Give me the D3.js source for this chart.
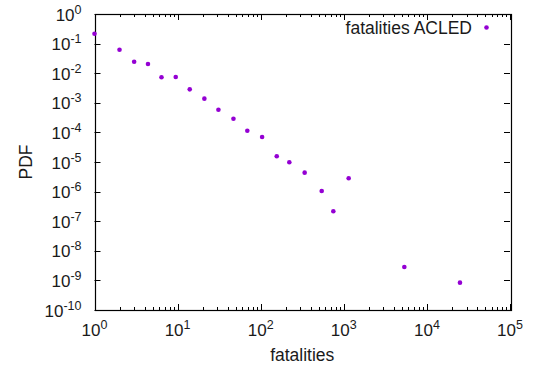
<!DOCTYPE html>
<html>
<head>
<meta charset="utf-8">
<script src="https://cdn.jsdelivr.net/npm/d3@7"></script>
<style>
  body { margin: 0; background: #fff; }
  svg text { font-family: "Liberation Sans", Arial, sans-serif; fill: #1a1a1a; }
</style>
</head>
<body>
<div id="chart"></div>
<script>
// fatalities bins and PDF values
const fatalities = [1, 2, 3, 4.4, 6.4, 9.5, 14, 21, 31, 47, 69, 104, 156, 221, 338, 542, 748, 1145, 5350, 25000];
const pdf = [0.216, 0.0623, 0.0245, 0.0205, 0.00727, 0.00744, 0.00285, 0.00138, 5.85e-4, 2.9e-4,
  1.14e-4, 7.0e-5, 1.56e-5, 9.8e-6, 4.36e-6, 1.05e-6, 2.16e-7, 2.82e-6, 2.84e-9, 8.4e-10];
const xTickExps = [0, 1, 2, 3, 4, 5];
const yTickExps = [0, -1, -2, -3, -4, -5, -6, -7, -8, -9, -10];
const seriesName = 'fatalities ACLED';

const width = 537, height = 371;
const margin = { left: 94.5, right: 27, top: 14, bottom: 61 };
const color = '#9400d3';

const svg = d3.select('#chart').append('svg')
  .attr('width', width)
  .attr('height', height);

const x = d3.scaleLog().domain([1, 1e5]).range([margin.left, width - margin.right]);
const y = d3.scaleLog().domain([1e-10, 1]).range([height - margin.bottom, margin.top]);

const x0 = x.range()[0], x1 = x.range()[1];
const y0 = y.range()[0], y1 = y.range()[1];

// ticks (gnuplot style: inward, mirrored)
const ticks = svg.append('g').attr('stroke', '#000').attr('stroke-width', 1);
const minorX = [];
for (let e = 0; e < 5; e++) for (let m = 2; m <= 9; m++) minorX.push(m * Math.pow(10, e));
minorX.forEach(v => {
  const px = Math.round(x(v)) + 0.5;
  ticks.append('line').attr('x1', px).attr('x2', px).attr('y1', y0).attr('y2', y0 - 3);
  ticks.append('line').attr('x1', px).attr('x2', px).attr('y1', y1).attr('y2', y1 + 3);
});
xTickExps.forEach(e => {
  const px = Math.round(x(Math.pow(10, e))) + 0.5;
  ticks.append('line').attr('x1', px).attr('x2', px).attr('y1', y0).attr('y2', y0 - 6);
  ticks.append('line').attr('x1', px).attr('x2', px).attr('y1', y1).attr('y2', y1 + 6);
});
yTickExps.forEach(e => {
  const py = Math.round(y(Math.pow(10, e))) + 0.5;
  ticks.append('line').attr('x1', x0).attr('x2', x0 + 6).attr('y1', py).attr('y2', py);
  ticks.append('line').attr('x1', x1).attr('x2', x1 - 6).attr('y1', py).attr('y2', py);
});

// border
svg.append('rect')
  .attr('x', Math.round(x0) + 0.5).attr('y', Math.round(y1) + 0.5)
  .attr('width', Math.round(x1 - x0)).attr('height', Math.round(y0 - y1))
  .attr('fill', 'none').attr('stroke', '#000').attr('stroke-width', 1.2);

// tick labels with superscript exponents
function powLabel(g, e) {
  g.append('tspan').text('10');
  g.append('tspan').attr('dy', -7).attr('font-size', 12.5).text(e);
}
xTickExps.forEach(e => {
  const t = svg.append('text')
    .attr('x', x(Math.pow(10, e)))
    .attr('y', y0 + 26)
    .attr('text-anchor', 'middle')
    .attr('font-size', 17);
  powLabel(t, e);
});
yTickExps.forEach(e => {
  const t = svg.append('text')
    .attr('x', x0 - 13)
    .attr('y', y(Math.pow(10, e)) + 6.5)
    .attr('text-anchor', 'end')
    .attr('font-size', 17);
  powLabel(t, e);
});

// axis titles
svg.append('text')
  .attr('x', (x0 + x1) / 2)
  .attr('y', height - 10)
  .attr('text-anchor', 'middle')
  .attr('font-size', 17.5)
  .text('fatalities');
svg.append('text')
  .attr('transform', `translate(32,${(y0 + y1) / 2}) rotate(-90)`)
  .attr('text-anchor', 'middle')
  .attr('font-size', 17.5)
  .text('PDF');

// points
svg.append('g').selectAll('circle')
  .data(fatalities.map((f, i) => [f, pdf[i]]))
  .enter().append('circle')
  .attr('cx', d => x(d[0]))
  .attr('cy', d => y(d[1]))
  .attr('r', 2.3)
  .attr('fill', color);

// legend
svg.append('text')
  .attr('x', 472)
  .attr('y', 34)
  .attr('text-anchor', 'end')
  .attr('font-size', 17.5)
  .text(seriesName);
svg.append('circle')
  .attr('cx', 486.5).attr('cy', 27.5).attr('r', 2.3).attr('fill', color);
</script>
</body>
</html>
